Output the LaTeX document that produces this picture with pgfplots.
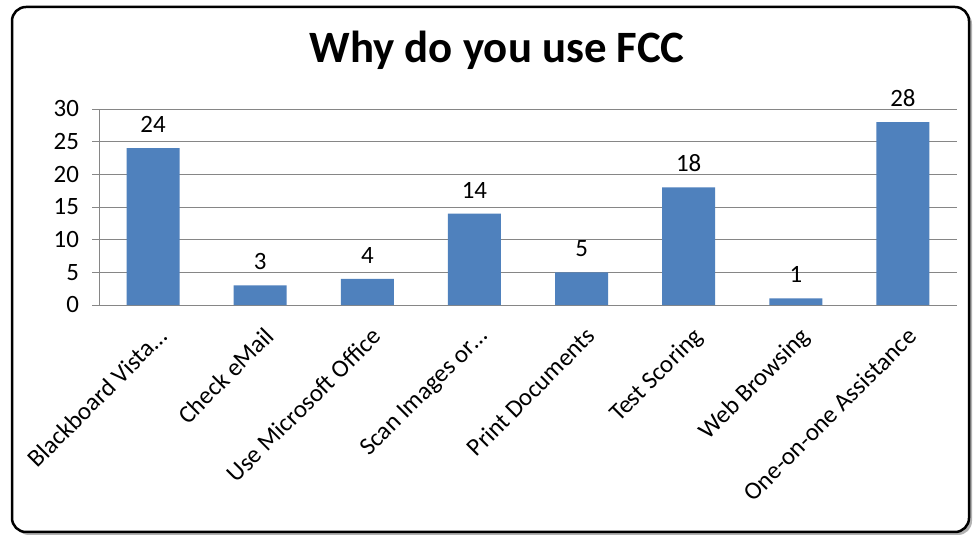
\documentclass[border=0pt]{standalone}
\usepackage{pgfplots}
\pgfplotsset{compat=1.18}
\usepackage{fontspec}
\setmainfont{Carlito}
\definecolor{barblue}{HTML}{4F81BD}
\definecolor{gridgray}{HTML}{868686}

\begin{document}
\begin{tikzpicture}
\useasboundingbox (0,0) rectangle (974bp,537bp);
% frame with shadow
\fill[gray!60, rounded corners=14bp] (15bp,2bp) rectangle (972bp,527bp);
\draw[line width=2.5bp, fill=white, rounded corners=14bp] (12bp,5bp) rectangle (969bp,530bp);
\node[font=\fontsize{45}{50}\selectfont\bfseries] at (497bp,487bp) {Why do you use FCC};

\begin{axis}[
    at={(99.5bp,232bp)}, anchor=south west,
    scale only axis,
    width=857bp, height=196bp,
    ybar, bar width=53bp,
    xmin=-0.5, xmax=7.5,
    ymin=0, ymax=30,
    ytick={0,5,...,30},
    axis x line=bottom, axis y line=left,
    axis line style={gridgray, line width=0.8bp, -},
    ymajorgrids,
    grid style={gridgray, line width=0.8bp},
    tick style={gridgray, line width=0.8bp},
    major tick length=7bp,
    tick align=outside,
    xtick={0,...,7},
    x tick style={draw=none},
    xticklabels={Blackboard Vista\dots, Check eMail, Use Microsoft Office, Scan Images or\dots, Print Documents, Test Scoring, Web Browsing, One-on-one Assistance},
    extra x ticks={-0.5,0.5,...,7.5},
    extra x tick labels={},
    extra x tick style={grid=none, tick style={gridgray, line width=0.8bp}, major tick length=7bp},
    xticklabel style={xshift=3bp, yshift=-9bp, rotate=45, anchor=north east, font=\fontsize{25}{28}\selectfont},
    yticklabel style={font=\fontsize{25}{28}\selectfont, xshift=-10bp},
    /pgf/number format/assume math mode=true,
    nodes near coords,
    nodes near coords style={font=\fontsize{25}{28}\selectfont, yshift=12bp},
    clip=false,
]
\addplot[fill=barblue, draw=none] coordinates {
    (0,24) (1,3) (2,4) (3,14) (4,5) (5,18) (6,1) (7,28)
};
\end{axis}
\end{tikzpicture}
\end{document}
